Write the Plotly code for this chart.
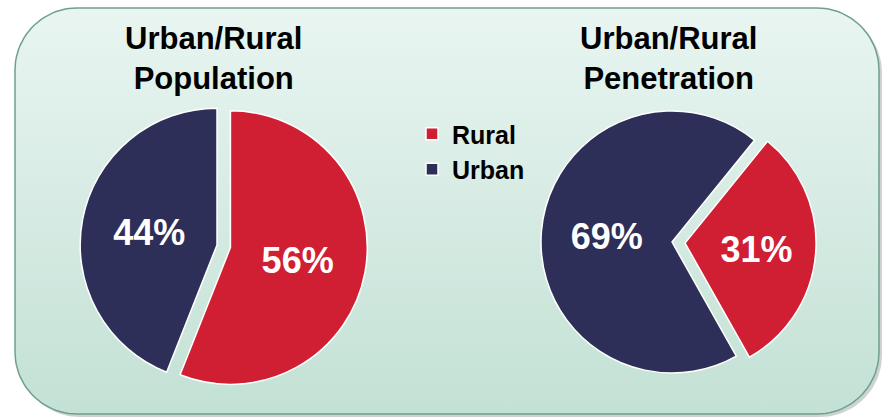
import numpy as np
import plotly.graph_objects as go

W, H = 882, 417

labels = ["Rural", "Urban"]
population_share = [56, 44]
penetration_share = [31, 69]
chart_titles = ["Urban/Rural<br>Population", "Urban/Rural<br>Penetration"]
slice_colors = ["#D01E33", "#2E2F58"]

NARROW = "Liberation Sans Narrow, Arial Narrow, Liberation Sans, Arial, sans-serif"
WIDE = "Liberation Sans, Arial, sans-serif"


def rounded_rect(x0, y0, x1, y1, r, n=24):
    pts = []
    corners = [(x1 - r, y0 + r, -90, 0), (x1 - r, y1 - r, 0, 90),
               (x0 + r, y1 - r, 90, 180), (x0 + r, y0 + r, 180, 270)]
    for cx, cy, a0, a1 in corners:
        t = np.radians(np.linspace(a0, a1, n))
        pts += list(zip(cx + r * np.cos(t), cy + r * np.sin(t)))
    pts.append(pts[0])
    return [p[0] for p in pts], [H - p[1] for p in pts]


fig = go.Figure()

# panel shadow
sx, sy = rounded_rect(18, 11, 882, 417, 62)
fig.add_trace(go.Scatter(x=sx, y=sy, mode="lines", fill="toself",
                         fillcolor="rgba(60,80,70,0.25)", line=dict(width=0),
                         hoverinfo="skip", showlegend=False))
# panel
bx, by = rounded_rect(15, 8, 879, 414, 62)
fig.add_trace(go.Scatter(x=bx, y=by, mode="lines", fill="toself",
                         fillgradient=dict(type="vertical",
                                           colorscale=[[0, "#c3e1d5"], [1, "#e9f5f1"]]),
                         line=dict(color="#6f9f90", width=1.5),
                         hoverinfo="skip", showlegend=False))

def px_dom(x0, x1, y0, y1):
    return dict(x=[x0 / W, x1 / W], y=[1 - y1 / H, 1 - y0 / H])

pie_font = dict(family=NARROW, size=36, color="white", weight="bold")

fig.add_trace(go.Pie(
    labels=labels, values=population_share, sort=False, direction="clockwise",
    rotation=0, pull=[0.1, 0],
    marker=dict(colors=slice_colors, line=dict(color="white", width=1.5)),
    texttemplate="%{percent:.0%}", textposition="inside",
    insidetextorientation="horizontal", textfont=pie_font,
    domain=px_dom(66.5, 367.5, 94.3, 395.7), hoverinfo="label+percent",
))
fig.add_trace(go.Pie(
    labels=labels, values=penetration_share, sort=False, direction="clockwise",
    rotation=39, pull=[0.1, 0],
    marker=dict(colors=slice_colors, line=dict(color="white", width=1.5)),
    texttemplate="%{percent:.0%}", textposition="inside",
    insidetextorientation="horizontal", textfont=pie_font,
    domain=px_dom(527.9, 816.1, 97.9, 386.1), hoverinfo="label+percent",
))

for t, cx in zip(chart_titles, [213, 668]):
    fig.add_annotation(text=t, x=cx / W, y=1 - 58 / H, xref="paper", yref="paper",
                       xanchor="center", yanchor="middle", showarrow=False,
                       font=dict(family=WIDE, size=31, color="black", weight="bold"))

fig.update_layout(
    width=W, height=H, margin=dict(l=0, r=0, t=0, b=0),
    paper_bgcolor="white", plot_bgcolor="white",
    xaxis=dict(range=[0, W], visible=False, fixedrange=True),
    yaxis=dict(range=[0, H], visible=False, fixedrange=True),
    legend=dict(x=412 / W, y=1 - 111 / H, xanchor="left", yanchor="top",
                bgcolor="rgba(0,0,0,0)",
                font=dict(family=NARROW, size=25, color="black", weight="bold")),
    showlegend=True,
)

fig.write_html("out.html", config={"displayModeBar": False},
               post_script="document.body.style.margin='0';document.body.style.padding='0';")
